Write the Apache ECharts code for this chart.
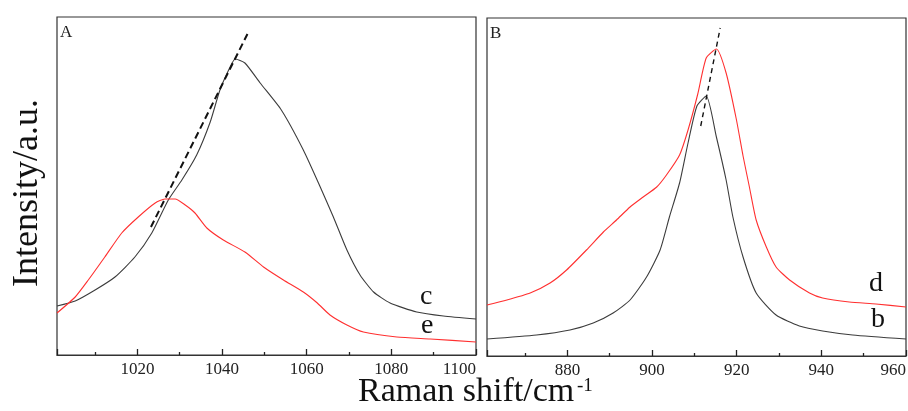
<!DOCTYPE html>
<html>
<head>
<meta charset="utf-8">
<title>Raman shift</title>
<script src="https://cdn.jsdelivr.net/npm/echarts@6/dist/echarts.min.js"></script>
<style>
    html, body { margin: 0; padding: 0; background: #fff; }
    #main { width: 908px; height: 411px; }
</style>
</head>
<body>
<div id="main"></div>
<script>
// 图A 曲线c (黑)
var shiftC = [1001, 1005.3, 1010, 1014.7, 1019.4, 1023.4, 1027.3, 1030.5, 1034, 1037.2, 1039.5, 1041.9, 1043.1, 1045.4, 1049, 1054, 1059.2, 1063.2, 1066.3, 1069.5, 1072.6, 1075.8, 1079.7, 1086, 1092.3, 1100];
var intensityC = [49, 54, 65, 78, 98, 122, 155, 175, 200, 233, 265, 288, 296, 292, 272, 245, 205, 168, 138, 105, 80, 63, 52, 43, 39, 36];
// 图A 曲线e (红)
var shiftE = [1001, 1005.3, 1008.4, 1012.3, 1016.3, 1020.2, 1024.2, 1026.5, 1028.9, 1031.3, 1033.6, 1036.4, 1040.3, 1045.4, 1049.8, 1054.5, 1059.2, 1062.5, 1065.5, 1069.5, 1073.4, 1081.3, 1089.2, 1100];
var intensityE = [42, 58, 75, 98, 122, 138, 152, 156, 156, 150, 142, 127, 115, 103, 88, 75, 63, 52, 40, 30, 23, 18, 16, 13];
// 图B 曲线b (黑)
var shiftB = [861, 872.7, 880.6, 886.1, 890.8, 894.8, 898.7, 901.9, 904.1, 906.5, 908.5, 910.6, 912.8, 915.2, 917.5, 919.1, 921.5, 924.6, 929.3, 934.8, 940.3, 947.4, 960];
var intensityB = [17, 21, 26, 33, 43, 56, 79, 106, 139, 173, 213, 250, 260, 219, 176, 139, 99, 63, 41, 30, 25, 21, 17];
// 图B 曲线d (红)
var shiftD = [861, 865.7, 871.2, 875.9, 879.8, 884.5, 888.5, 891.6, 894.8, 897.9, 901.1, 903.4, 906.5, 908.5, 910.8, 912.8, 915.2, 917.5, 919.9, 921.5, 923, 924.6, 927, 929.3, 932.5, 937.2, 940.3, 946.6, 952.9, 960];
var intensityD = [51, 56, 63, 73, 86, 106, 124, 136, 149, 159, 169, 181, 201, 226, 262, 298, 307, 283, 237, 200, 169, 136, 109, 89, 76, 63, 58, 54, 52, 49];
// 峰位移动虚线
var guideA = [[1023.2, 128], [1046, 321]];
var guideB = [[911.5, 230], [916.1, 328]];

// 坐标轴范围, 刻度间隔
var rangeA = [1001, 1100];
var rangeB = [861, 960];
var tickStep = 20;

var serif = '"Liberation Serif", "Times New Roman", serif';
var blackLine = '#3c3c3c';
var redLine = '#ff3030';

function pairs(xs, ys) {
    var res = [];
    for (var i = 0; i < xs.length; i++) {
        res.push([xs[i], ys[i]]);
    }
    return res;
}

// 刻度朝内, 次刻度取中点
function xAxisOf(grid, range) {
    return {
        type: 'value', gridIndex: grid, min: range[0], max: range[1],
        splitNumber: 5,
        splitLine: { show: false },
        axisLine: { show: true, lineStyle: { color: '#333', width: 1.2 } },
        axisTick: { show: true, inside: true, length: 6, lineStyle: { color: '#222', width: 1.3 } },
        minorTick: { show: true, splitNumber: 2, length: 3, lineStyle: { color: '#222', width: 1.3 } },
        axisLabel: {
            show: true, margin: 6, fontFamily: serif, fontSize: 17, color: '#222',
            showMinLabel: false,
            alignMaxLabel: 'right',
            formatter: function (v) { return v % tickStep === 0 ? String(v) : ''; }
        }
    };
}

function curve(name, xi, data, color, width, dash) {
    return {
        name: name, type: 'line', xAxisIndex: xi, yAxisIndex: xi,
        data: data, showSymbol: false, smooth: dash ? false : 0.2,
        lineStyle: { color: color, width: width, type: dash || 'solid' },
        silent: true
    };
}

var myChart = echarts.init(document.getElementById('main'));
var option = {
    animation: false,
    grid: [
        { left: 57, top: 17, width: 419, height: 338, show: true, borderColor: '#333', borderWidth: 1.2, outerBoundsMode: 'none' },
        { left: 487, top: 18, width: 419, height: 338, show: true, borderColor: '#333', borderWidth: 1.2, outerBoundsMode: 'none' }
    ],
    xAxis: [
        xAxisOf(0, rangeA),
        xAxisOf(1, rangeB)
    ],
    yAxis: [
        { type: 'value', gridIndex: 0, min: 0, max: 338, show: false },
        { type: 'value', gridIndex: 1, min: 0, max: 338, show: false }
    ],
    series: [
        curve('c', 0, pairs(shiftC, intensityC), blackLine, 1.1),
        curve('e', 0, pairs(shiftE, intensityE), redLine, 1.1),
        curve('guideA', 0, guideA, '#111', 2, [7, 4]),
        curve('b', 1, pairs(shiftB, intensityB), blackLine, 1.1),
        curve('d', 1, pairs(shiftD, intensityD), redLine, 1.1),
        curve('guideB', 1, guideB, '#111', 1.4, [5, 4])
    ],
    graphic: [
        // 面板标记
        { type: 'text', left: 60, top: 24, style: { text: 'A', font: '17px ' + serif, fill: '#222' } },
        { type: 'text', left: 490, top: 25, style: { text: 'B', font: '17px ' + serif, fill: '#222' } },
        // 曲线标签
        { type: 'text', left: 420, top: 283, style: { text: 'c', font: '28px ' + serif, fill: '#111' } },
        { type: 'text', left: 421, top: 312, style: { text: 'e', font: '28px ' + serif, fill: '#111' } },
        { type: 'text', left: 869, top: 270, style: { text: 'd', font: '28px ' + serif, fill: '#111' } },
        { type: 'text', left: 871, top: 306, style: { text: 'b', font: '28px ' + serif, fill: '#111' } },
        // 坐标轴标题
        {
            type: 'text', left: 358, top: 375,
            style: { text: 'Raman shift/cm', font: '34px ' + serif, fill: '#111' }
        },
        {
            type: 'text', left: 577, top: 377,
            style: { text: '-1', font: '19px ' + serif, fill: '#111' }
        },
        {
            type: 'text', x: 28, y: 193, rotation: Math.PI / 2,
            style: { text: 'Intensity/a.u.', font: '36px ' + serif, fill: '#111', align: 'center', verticalAlign: 'middle' }
        }
    ]
};
myChart.setOption(option);
</script>
</body>
</html>
